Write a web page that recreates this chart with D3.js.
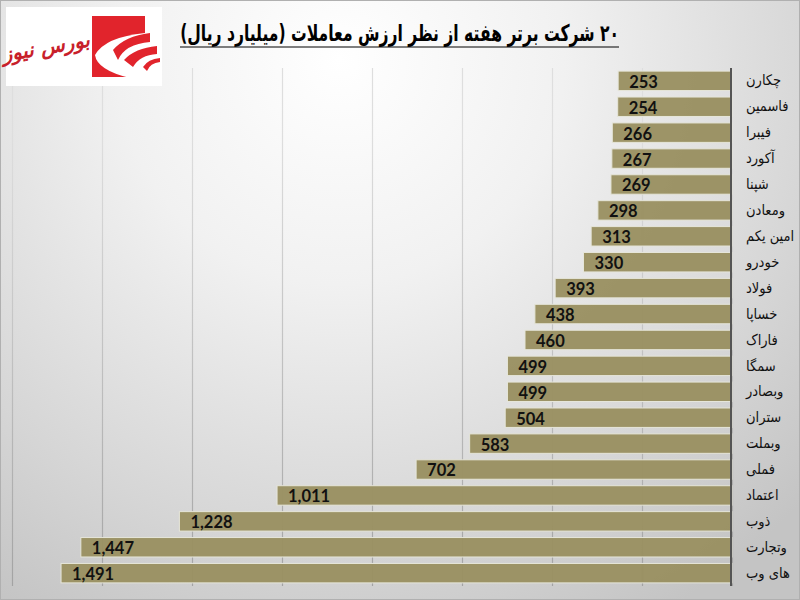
<!DOCTYPE html>
<html>
<head>
<meta charset="utf-8">
<script src="https://cdn.jsdelivr.net/npm/d3@7"></script>
<style>
  html, body { margin: 0; padding: 0; background: #fff; }
  svg { display: block; }
</style>
</head>
<body>
<svg id="chart" width="800" height="600"></svg>
<script>
// noms des societes, de haut en bas
const societes = ["چکارن", "فاسمین", "فیبرا", "آکورد", "شپنا", "ومعادن", "امین یکم", "خودرو", "فولاد", "خساپا",
    "فاراک", "سمگا", "وبصادر", "ستران", "وبملت", "فملی", "اعتماد", "ذوب", "وتجارت", "های وب"];
const valeurs = [253, 254, 266, 267, 269, 298, 313, 330, 393, 438, 460, 499, 499, 504, 583, 702, 1011, 1228, 1447, 1491];
const graduations = [0, 200, 400, 600, 800, 1000, 1200, 1400, 1600];
const titre = "۲۰ شرکت برتر هفته از نظر ارزش معاملات (میلیارد ریال)";
const logoTexte = "بورس نیوز";

const svg = d3.select("#chart");
const defs = svg.append("defs");

// fond degrade gris
const fond = defs.append("radialGradient").attr("id", "fond")
    .attr("gradientUnits", "userSpaceOnUse")
    .attr("cx", 340).attr("cy", 60).attr("r", 640);
fond.append("stop").attr("offset", "0%").attr("stop-color", "#ffffff");
fond.append("stop").attr("offset", "35%").attr("stop-color", "#f1f1f1");
fond.append("stop").attr("offset", "75%").attr("stop-color", "#d6d6d6");
fond.append("stop").attr("offset", "100%").attr("stop-color", "#c4c4c4");

const gradGrille = defs.append("linearGradient").attr("id", "gradGrille")
    .attr("gradientUnits", "userSpaceOnUse")
    .attr("x1", 0).attr("y1", 68).attr("x2", 0).attr("y2", 586);
gradGrille.append("stop").attr("offset", "0%").attr("stop-color", "#dedede");
gradGrille.append("stop").attr("offset", "100%").attr("stop-color", "#9a9a9a");

svg.append("rect").attr("width", 800).attr("height", 600).attr("fill", "url(#fond)");
svg.append("rect").attr("x", 0.5).attr("y", 0.5).attr("width", 799).attr("height", 599)
    .attr("fill", "none").attr("stroke", "#b0b0b0");

const x = d3.scaleLinear().domain([0, 1600]).range([732, 12]);
const y = d3.scaleBand().domain(societes).range([68, 586]).paddingInner(0.25).paddingOuter(0.12);

// grille
const axeX = d3.axisBottom(x).tickValues(graduations).tickSize(518).tickFormat("");
const gGrille = svg.append("g").attr("transform", "translate(0,68)").call(axeX);
gGrille.select(".domain").remove();
gGrille.selectAll(".tick line").attr("stroke", "url(#gradGrille)").attr("stroke-width", 1.2);

// barres
svg.append("g").selectAll("rect").data(valeurs).join("rect")
    .attr("x", (d) => x(d))
    .attr("y", (d, i) => y(societes[i]))
    .attr("width", (d) => x(0) - x(d))
    .attr("height", y.bandwidth())
    .attr("fill", "#9a9162")
    .attr("fill-opacity", 0.97)
    .attr("stroke", "#e6e6da")
    .attr("stroke-width", 1);

// valeurs dans les barres
svg.append("g").selectAll("text").data(valeurs).join("text")
    .attr("x", (d) => x(d) + 11)
    .attr("y", (d, i) => y(societes[i]) + y.bandwidth() / 2 + 1)
    .attr("dy", "0.36em")
    .attr("font-family", "Lato, sans-serif")
    .attr("font-weight", "bold")
    .attr("font-size", 16.5)
    .attr("fill", "#111")
    .text((d) => d3.format(",")(d));

// axe des societes
const axeY = d3.axisRight(y).tickSize(0).tickPadding(15);
const gAxe = svg.append("g").attr("transform", "translate(731,0)").call(axeY);
gAxe.select(".domain").attr("d", "M0,68V586").attr("stroke", "#555").attr("stroke-width", 2);
gAxe.selectAll("text")
    .attr("direction", "rtl")
    .attr("text-anchor", "end")
    .attr("font-family", "'DejaVu Sans Condensed', 'DejaVu Sans', sans-serif")
    .attr("font-size", 14.5)
    .attr("fill", "#111");

// titre : on le resserre pour tenir dans la largeur du soulignement
const texteTitre = svg.append("text")
    .attr("direction", "rtl")
    .attr("text-anchor", "start")
    .attr("font-family", "'DejaVu Sans Condensed', 'DejaVu Sans', sans-serif")
    .attr("font-weight", "bold")
    .attr("font-size", 23)
    .attr("fill", "#000")
    .text(titre);
const echelleTitre = 439 / texteTitre.node().getComputedTextLength();
texteTitre.attr("transform", `translate(619,41) scale(${echelleTitre},1)`);
svg.append("line").attr("x1", 180).attr("x2", 619).attr("y1", 47).attr("y2", 47)
    .attr("stroke", "#000").attr("stroke-width", 1);

// logo
const logo = svg.append("g");
logo.append("rect").attr("x", 6).attr("y", 7).attr("width", 156).attr("height", 79).attr("fill", "#fff");
logo.append("rect").attr("x", 92).attr("y", 16).attr("width", 53).attr("height", 61).attr("fill", "#e1242c");
logo.append("path").attr("d", "M145,33Q105,37 95,55Q97,70 130,78L162,78L162,33Z").attr("fill", "#fff");
["M150,33L150,42Q125,44 118,60L113,50Q125,36 150,33Z",
    "M157,46L157,54Q140,55 133,67L124,60Q135,48 157,46Z",
    "M160,58L160,62Q150,63 147,71L143,67Q148,59 160,58Z"].forEach((d) => {
    logo.append("path").attr("d", d).attr("fill", "#e1242c");
});
logo.append("text")
    .attr("transform", "translate(47,54) rotate(-10)")
    .attr("direction", "rtl")
    .attr("text-anchor", "middle")
    .attr("font-family", "'DejaVu Sans', sans-serif")
    .attr("font-weight", "bold")
    .attr("font-style", "italic")
    .attr("font-size", 20)
    .attr("fill", "#c8202a")
    .text(logoTexte);
</script>
</body>
</html>
